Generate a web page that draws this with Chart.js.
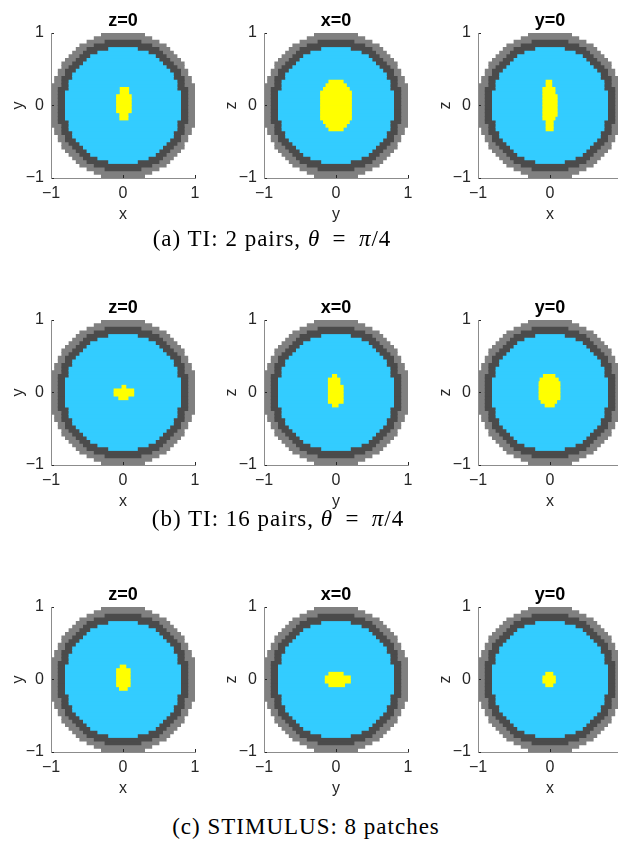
<!DOCTYPE html>
<html>
<head>
<meta charset="utf-8">
<script src="https://cdn.jsdelivr.net/npm/chart.js@4/dist/chart.umd.min.js"></script>
<style>
  html, body { margin: 0; padding: 0; background: #fff; overflow: hidden; }
  body { width: 618px; height: 848px; position: relative; }
  canvas.panel { position: absolute; }
  .caption {
    position: absolute; white-space: nowrap; transform: translateX(-50%);
    font-family: "Liberation Serif", "DejaVu Serif", serif; font-size: 23px; letter-spacing: 1px; color: #000;
  }
  .caption i { font-style: italic; }
</style>
</head>
<body>
<script>
// Voxel grid step in axis units
const cellSize = 0.05;

// Half-width (in voxels) of each tissue layer; entry j is the voxel row
// centred at ±(j + 0.5) * cellSize, from the centre outward
const scalpHalfWidth = [20, 20, 20, 20, 20, 20, 19, 19, 18, 18, 17, 17, 16, 15, 14, 13, 12, 10, 8, 6];
const skullHalfWidth = [18, 18, 18, 18, 18, 17, 17, 17, 16, 16, 15, 14, 13, 12, 11, 10, 8, 5];
const brainHalfWidth = [16, 16, 16, 16, 15, 15, 15, 14, 14, 13, 12, 11, 10, 9, 7, 4];

// Stimulated (focus) region per slice: [row j (centre at (j + 0.5) * cellSize), x start, x end]
const focusA1 = [[4, -0.04, 0.08], [3, -0.04, 0.08], [2, -0.09, 0.115], [1, -0.09, 0.115], [0, -0.09, 0.115],
                 [-1, -0.09, 0.115], [-2, -0.09, 0.115], [-3, -0.045, 0.07], [-4, -0.045, 0.07]];
const focusA2 = [[6, -0.1, 0.1], [5, -0.14, 0.145], [4, -0.175, 0.185], [3, -0.215, 0.215], [2, -0.215, 0.215],
                 [1, -0.215, 0.215], [0, -0.215, 0.215], [-1, -0.215, 0.215], [-2, -0.215, 0.215], [-3, -0.215, 0.215],
                 [-4, -0.215, 0.215], [-5, -0.175, 0.185], [-6, -0.14, 0.145], [-7, -0.1, 0.1]];
const focusA3 = [[6, -0.055, 0.025], [5, -0.055, 0.025], [4, -0.1, 0.07], [3, -0.1, 0.07], [2, -0.1, 0.1],
                 [1, -0.1, 0.1], [0, -0.1, 0.1], [-1, -0.1, 0.1], [-2, -0.1, 0.1], [-3, -0.1, 0.1],
                 [-4, -0.1, 0.07], [-5, -0.055, 0.045], [-6, -0.055, 0.045], [-7, -0.055, 0.045]];
const focusB1 = [[1, -0.015, 0.04], [0, -0.125, 0.15], [-1, -0.125, 0.15], [-2, -0.06, 0.07]];
const focusB2 = [[4, -0.05, 0.01], [3, -0.107, 0.055], [2, -0.107, 0.055], [1, -0.107, 0.1], [0, -0.107, 0.1],
                 [-1, -0.107, 0.1], [-2, -0.107, 0.1], [-3, -0.107, 0.1], [-4, -0.05, 0.03]];
const focusB3 = [[4, -0.093, 0.069], [3, -0.139, 0.115], [2, -0.153, 0.139], [1, -0.153, 0.139], [0, -0.153, 0.139],
                 [-1, -0.153, 0.139], [-2, -0.153, 0.139], [-3, -0.125, 0.093], [-4, -0.069, 0.06]];
const focusC1 = [[3, -0.04, 0.04], [2, -0.09, 0.1], [1, -0.09, 0.1], [0, -0.09, 0.1], [-1, -0.09, 0.1],
                 [-2, -0.09, 0.1], [-3, -0.05, 0.06]];
const focusC2 = [[1, -0.1, 0.1], [0, -0.15, 0.2], [-1, -0.15, 0.2], [-2, -0.1, 0.12]];
const focusC3 = [[1, -0.06, 0.04], [0, -0.1, 0.075], [-1, -0.1, 0.075], [-2, -0.06, 0.04]];

// Slice titles and axis names for the three columns
const sliceTitles = ['z=0', 'x=0', 'y=0'];
const horizontalAxisNames = ['x', 'y', 'x'];
const verticalAxisNames = ['y', 'z', 'z'];
const tickValues = [-1, 0, 1];

const focusByPanel = [
  [focusA1, focusA2, focusA3],
  [focusB1, focusB2, focusB3],
  [focusC1, focusC2, focusC3]
];

const captions = [
  '(a) TI: 2 pairs, <i>θ</i>&thinsp; = &thinsp;<i>π</i>/4',
  '(b) TI: 16 pairs, <i>θ</i>&thinsp; = &thinsp;<i>π</i>/4',
  '(c) STIMULUS: 8 patches'
];

const COLORS = {
  scalp: '#808080',
  skull: '#4b4b4b',
  brain: '#33ccff',
  focus: '#ffff00',
  axis: '#8c8c8c',
  text: '#262626'
};

// Layout of the plot areas on the page
const plotLeft = [51, 264, 478];
const plotTop = [33, 320, 607];
const captionPos = [[272, 226], [278, 506], [306, 814]];
const AXIS_W = 50, TITLE_H = 33, XAXIS_H = 50, PLOT_W = 144, PLOT_H = 145;

function layerRows(halfWidths) {
  const rows = [];
  for (let j = -halfWidths.length; j < halfWidths.length; j++) {
    const e = halfWidths[j >= 0 ? j : -j - 1] * cellSize;
    rows.push({ y: (j + 0.5) * cellSize, x: [-e, e] });
  }
  return rows;
}
function focusRows(focus) {
  return focus.map(([j, a, b]) => ({ y: (j + 0.5) * cellSize, x: [a, b] }));
}

const FONT = 'Liberation Sans, Arial, Helvetica, sans-serif';
const tickLabel = v => (v < 0 ? '\u2212' + Math.abs(v) : String(v));

function makePanel(row, col) {
  const canvas = document.createElement('canvas');
  canvas.className = 'panel';
  const W = AXIS_W + PLOT_W + 12, H = TITLE_H + PLOT_H + XAXIS_H + 2;
  canvas.width = W; canvas.height = H;
  canvas.style.left = (plotLeft[col] - AXIS_W) + 'px';
  canvas.style.top = (plotTop[row] - TITLE_H) + 'px';
  canvas.style.width = W + 'px'; canvas.style.height = H + 'px';
  document.body.appendChild(canvas);

  const tickFont = { family: FONT, size: 16, lineHeight: 1.2 };
  new Chart(canvas, {
    type: 'bar',
    data: {
      datasets: [
        { label: 'focus', data: focusRows(focusByPanel[row][col]), backgroundColor: COLORS.focus },
        { label: 'brain', data: layerRows(brainHalfWidth), backgroundColor: COLORS.brain },
        { label: 'skull', data: layerRows(skullHalfWidth), backgroundColor: COLORS.skull },
        { label: 'scalp', data: layerRows(scalpHalfWidth), backgroundColor: COLORS.scalp }
      ]
    },
    options: {
      indexAxis: 'y',
      responsive: false,
      animation: false,
      devicePixelRatio: 1,
      events: [],
      datasets: {
        bar: { grouped: false, barPercentage: 1, categoryPercentage: 1, borderWidth: 0, inflateAmount: 0.4 }
      },
      layout: { padding: { left: 0, right: 12, top: 0, bottom: 2 }, autoPadding: false },
      plugins: {
        legend: { display: false },
        tooltip: { enabled: false },
        title: {
          display: true, text: sliceTitles[col], fullSize: false, color: '#000',
          font: { family: FONT, size: 18, weight: 'bold', lineHeight: 1.2 },
          padding: { top: 10, bottom: 1.4 }
        }
      },
      scales: {
        x: {
          type: 'linear', position: 'bottom', min: -1, max: 1, offset: false,
          afterBuildTicks: s => { s.ticks = tickValues.map(v => ({ value: v })); },
          ticks: { color: COLORS.text, font: tickFont, padding: 9, maxRotation: 0, autoSkip: false, callback: tickLabel },
          grid: { display: true, drawOnChartArea: false, drawTicks: true, tickLength: -3, color: COLORS.text, offset: false, z: 1 },
          border: { display: true, color: COLORS.axis, width: 1, z: 1 },
          title: { display: true, text: horizontalAxisNames[col], color: COLORS.text, font: tickFont, padding: { top: 0, bottom: 4 } },
          afterFit: s => { s.height = XAXIS_H; s.paddingLeft = 0; s.paddingRight = 0; }
        },
        y: {
          type: 'linear', position: 'left', min: -1, max: 1, offset: false,
          afterBuildTicks: s => { s.ticks = tickValues.map(v => ({ value: v })); },
          ticks: { color: COLORS.text, font: tickFont, padding: 10, autoSkip: false, callback: tickLabel },
          grid: { display: true, drawOnChartArea: false, drawTicks: true, tickLength: -3, color: COLORS.text, offset: false, z: 1 },
          border: { display: true, color: COLORS.axis, width: 1, z: 1 },
          title: { display: true, text: verticalAxisNames[col], color: COLORS.text, font: tickFont, padding: { top: 8, bottom: 0 } },
          afterFit: s => { s.width = AXIS_W; s.paddingTop = 0; s.paddingBottom = 0; }
        }
      }
    }
  });
}

for (let r = 0; r < 3; r++) {
  for (let c = 0; c < 3; c++) makePanel(r, c);
  const cap = document.createElement('div');
  cap.className = 'caption';
  cap.innerHTML = captions[r];
  cap.style.left = captionPos[r][0] + 'px';
  cap.style.top = captionPos[r][1] + 'px';
  document.body.appendChild(cap);
}
</script>
</body>
</html>
